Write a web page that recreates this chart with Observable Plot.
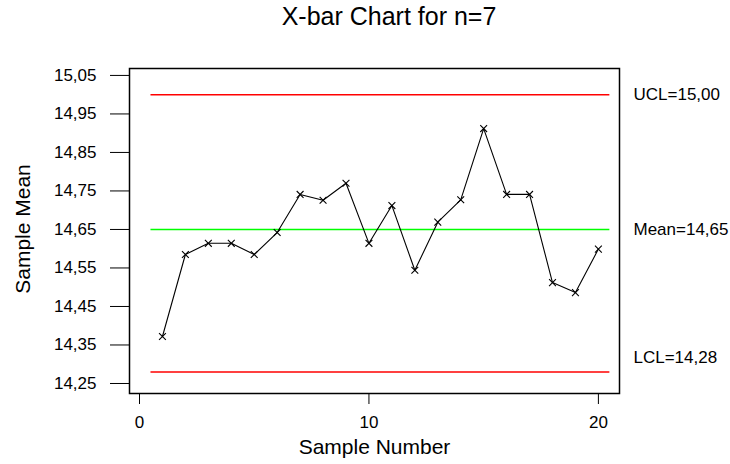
<!DOCTYPE html>
<html>
<head>
<meta charset="utf-8">
<script src="https://cdn.jsdelivr.net/npm/d3@7"></script>
<script src="https://cdn.jsdelivr.net/npm/@observablehq/plot@0.6"></script>
<style>
  body { margin: 0; background: #fff; }
  #wrap { position: relative; width: 730px; height: 464px; font-family: "Liberation Sans", Arial, sans-serif; }
  #title { position: absolute; left: 0; top: 2px; width: 778px; text-align: center; font-size: 25px; color: #000; }
  #chart { position: absolute; left: 0; top: 0; }
</style>
</head>
<body>
<div id="wrap">
  <div id="chart"></div>
  <div id="title">X-bar Chart for n=7</div>
</div>
<script>
// Subgroup means for 20 samples of size 7
const samples = [1, 2, 3, 4, 5, 6, 7, 8, 9, 10, 11, 12, 13, 14, 15, 16, 17, 18, 19, 20];
const means = [14.372, 14.585, 14.614, 14.614, 14.585, 14.642, 14.741, 14.726, 14.770, 14.614,
               14.712, 14.544, 14.669, 14.727, 14.912, 14.741, 14.741, 14.512, 14.486, 14.599];

// Control limits
const limitNames = ["UCL", "Mean", "LCL"];
const limitValues = [15.00, 14.65, 14.28];
const limitColors = ["#ff0000", "#00ff00", "#ff0000"];

// Axis ticks
const xTicks = [0, 10, 20];
const yTicks = [14.25, 14.35, 14.45, 14.55, 14.65, 14.75, 14.85, 14.95, 15.05];

const comma = (v) => v.toFixed(2).replace(".", ",");

const points = samples.map((s, i) => ({sample: s, mean: means[i]}));
const limits = limitNames.map((n, i) => ({name: n, value: limitValues[i], color: limitColors[i]}));

const font = "Liberation Sans, Arial, sans-serif";

const chart = Plot.plot({
  width: 730,
  height: 464,
  marginLeft: 129,
  marginRight: 111,
  marginTop: 68,
  marginBottom: 71,
  style: {fontFamily: font, fontSize: "17px", color: "#000", background: "white"},
  x: {domain: [-0.436, 20.92], ticks: xTicks, tickSize: 11, tickPadding: 11, tickFormat: d3.format("d"), label: null},
  y: {domain: [14.224, 15.068], ticks: yTicks, tickSize: 19, tickPadding: 14, tickFormat: comma, label: null},
  marks: [
    Plot.frame({stroke: "#000", strokeWidth: 1.5}),
    Plot.ruleY(limits, {y: "value", x1: 0.5, x2: 20.5, stroke: "color", strokeWidth: 1.5}),
    Plot.line(points, {x: "sample", y: "mean", stroke: "#000", strokeWidth: 1.1}),
    Plot.dot(points, {x: "sample", y: "mean", symbol: "times", r: 3.2, stroke: "#000", strokeWidth: 1.1}),
    Plot.text(limits.filter(d => d.name !== "LCL"), {
      y: "value", frameAnchor: "right", dx: 14, textAnchor: "start",
      text: d => `${d.name}=${comma(d.value)}`, fill: "#000", fontSize: 17
    }),
    Plot.text(limits.filter(d => d.name === "LCL"), {
      y: "value", frameAnchor: "right", dx: 14, dy: -14, textAnchor: "start",
      text: d => `${d.name}=${comma(d.value)}`, fill: "#000", fontSize: 17
    }),
    Plot.text(["Sample Number"], {frameAnchor: "bottom", lineAnchor: "middle", dy: 54, text: d => d, fontSize: 21, fill: "#000"}),
    Plot.text(["Sample Mean"], {frameAnchor: "left", textAnchor: "middle", lineAnchor: "middle", dx: -106, dy: -2, rotate: -90, text: d => d, fontSize: 21, fill: "#000"})
  ]
});

document.getElementById("chart").appendChild(chart);
</script>
</body>
</html>
